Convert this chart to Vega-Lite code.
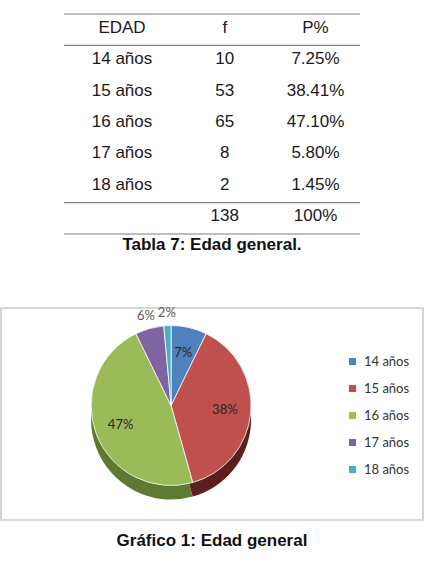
{
  "$schema": "https://vega.github.io/schema/vega-lite/v6.json",
  "padding": 0,
  "bounds": "flush",
  "spacing": 74,
  "center": true,
  "config": {
    "view": {"stroke": null},
    "font": "Liberation Sans",
    "title": {"font": "Liberation Sans", "fontSize": 17, "fontWeight": "bold", "color": "#111111"}
  },
  "datasets": {
    "tabla": [
      {"fila": 0, "edad": "EDAD", "f": "f", "p": "P%"},
      {"fila": 1, "edad": "14 años", "f": "10", "p": "7.25%"},
      {"fila": 2, "edad": "15 años", "f": "53", "p": "38.41%"},
      {"fila": 3, "edad": "16 años", "f": "65", "p": "47.10%"},
      {"fila": 4, "edad": "17 años", "f": "8", "p": "5.80%"},
      {"fila": 5, "edad": "18 años", "f": "2", "p": "1.45%"},
      {"fila": 6, "edad": "", "f": "138", "p": "100%"}
    ],
    "edades": [
      {"edad": "14 años", "n": 10, "etiqueta": "7%"},
      {"edad": "15 años", "n": 53, "etiqueta": "38%"},
      {"edad": "16 años", "n": 65, "etiqueta": "47%"},
      {"edad": "17 años", "n": 8, "etiqueta": "6%"},
      {"edad": "18 años", "n": 2, "etiqueta": "2%"}
    ]
  },
  "vconcat": [
    {
      "width": 296,
      "height": 234,
      "data": {"name": "tabla"},
      "title": {"text": "Tabla 7: Edad general.", "orient": "bottom", "offset": 2},
      "encoding": {
        "y": {"field": "fila", "type": "ordinal", "scale": {"type": "band", "range": [14, 234], "paddingInner": 0, "paddingOuter": 0}, "axis": null}
      },
      "layer": [
        {
          "mark": {"type": "text", "fontSize": 17, "dy": -2, "color": "#1a1a1a"},
          "encoding": {
            "x": {"datum": "EDAD", "type": "nominal", "scale": {"type": "point", "domain": ["EDAD", "f", "P%"], "range": [58, 251.5], "padding": 0}, "axis": null},
            "text": {"field": "edad"}
          }
        },
        {
          "mark": {"type": "text", "fontSize": 17, "dy": -2, "dx": 6, "color": "#1a1a1a"},
          "encoding": {
            "x": {"datum": "f", "type": "nominal"},
            "text": {"field": "f"}
          }
        },
        {
          "mark": {"type": "text", "fontSize": 17, "dy": -2, "color": "#1a1a1a"},
          "encoding": {
            "x": {"datum": "P%", "type": "nominal"},
            "text": {"field": "p"}
          }
        },
        {
          "transform": [{"filter": "datum.fila == 0 || datum.fila == 1 || datum.fila == 6"}],
          "mark": {"type": "rule", "color": "#808080", "strokeWidth": 1.2},
          "encoding": {"y": {"field": "fila", "type": "ordinal", "bandPosition": 0}}
        },
        {
          "transform": [{"filter": "datum.fila == 6"}],
          "mark": {"type": "rule", "color": "#808080", "strokeWidth": 1.2},
          "encoding": {"y": {"field": "fila", "type": "ordinal", "bandPosition": 1}}
        }
      ]
    },
    {
      "width": 422,
      "height": 212,
      "view": {"stroke": "#c8c8c8", "strokeWidth": 1.5},
      "data": {"name": "edades"},
      "title": {"text": "Gráfico 1: Edad general", "orient": "bottom", "offset": 13},
      "encoding": {
        "theta": {"field": "n", "type": "quantitative", "stack": true},
        "order": {"field": "edad", "type": "ordinal", "sort": "ascending"},
        "x": {"datum": 0.403, "type": "quantitative", "scale": {"domain": [0, 1]}, "axis": null}
      },
      "resolve": {"scale": {"color": "independent"}},
      "layer": [
        {
          "mark": {"type": "arc", "outerRadius": 80},
          "encoding": {
            "y": {"datum": 0.474, "type": "quantitative", "scale": {"domain": [0, 1]}, "axis": null},
            "color": {"field": "edad", "type": "nominal", "scale": {"domain": ["14 años", "15 años", "16 años", "17 años", "18 años"], "range": ["#2c4d75", "#5a1f1e", "#5f7a30", "#4c3b63", "#2a6f80"]}, "legend": null}
          }
        },
        {
          "mark": {"type": "arc", "outerRadius": 80, "stroke": "white", "strokeWidth": 0.8},
          "encoding": {
            "y": {"datum": 0.54, "type": "quantitative"},
            "color": {
              "field": "edad", "type": "nominal",
              "scale": {"domain": ["14 años", "15 años", "16 años", "17 años", "18 años"], "range": ["#4f81bd", "#c0504d", "#9bbb59", "#8064a2", "#4bacc6"]},
              "legend": {"title": null, "orient": "none", "legendX": 345, "legendY": 47, "symbolType": "square", "symbolSize": 50, "symbolStrokeWidth": 0, "labelFont": "Lato", "labelFontSize": 13, "labelColor": "#333333", "rowPadding": 13, "labelOffset": 5}
            }
          }
        },
        {
          "mark": {"type": "text", "radius": 54, "font": "Lato", "fontSize": 13, "color": "#262626"},
          "encoding": {
            "y": {"datum": 0.54, "type": "quantitative"},
            "text": {"condition": {"test": "datum.n >= 10", "field": "etiqueta"}, "value": ""}
          }
        },
        {
          "mark": {"type": "text", "radius": 93, "font": "Lato", "fontSize": 13, "color": "#595959"},
          "encoding": {
            "y": {"datum": 0.54, "type": "quantitative"},
            "text": {"condition": {"test": "datum.n < 10", "field": "etiqueta"}, "value": ""}
          }
        }
      ]
    }
  ]
}
